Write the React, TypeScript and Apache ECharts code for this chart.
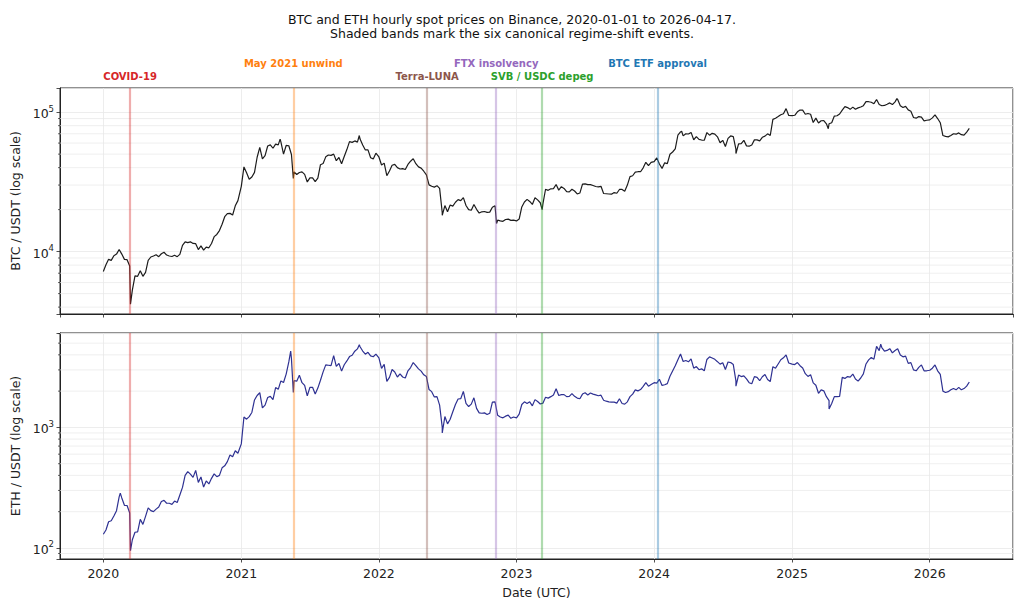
import { useEffect, useRef } from 'react';
import * as echarts from 'echarts';

// weekly samples, index k = Jan 1 + 7k days
const btc2020 = [7200, 8050, 8800, 8650, 9350, 9600, 10350, 9600, 8800, 8750, 7900, 5300, 6700, 6650, 7300, 6650, 7100, 8650, 9150, 9300, 9500, 9200, 9650, 9900, 9450, 9300, 9230, 9430, 9200, 9550, 11100, 11750, 11600, 11750, 11450, 11400, 10350, 11000, 10250, 10780, 10650, 11430, 12800, 13280, 14150, 15700, 17800, 18700, 18800, 18300, 21300, 23200];
const btc2021 = [29400, 40500, 36800, 33000, 34300, 37000, 47500, 55900, 46300, 48800, 57200, 58300, 55100, 59000, 58200, 61300, 50000, 57700, 57400, 49700, 37300, 35700, 36900, 37300, 35800, 31600, 33800, 33800, 31800, 33600, 42000, 42800, 47800, 49300, 49000, 50000, 44900, 47300, 42700, 48100, 53900, 61500, 60700, 62200, 61000, 64100, 58100, 53600, 53600, 47100, 46200, 50800];
const btc2022 = [47700, 41800, 43100, 35000, 37900, 41600, 42200, 40000, 39100, 39400, 38800, 42200, 44500, 46400, 42700, 40500, 39700, 37700, 35500, 30100, 29400, 29000, 29700, 28400, 19000, 21400, 19300, 21600, 21200, 22600, 23600, 23200, 24400, 21400, 20000, 19800, 21800, 20100, 18900, 19300, 19400, 19100, 19200, 20800, 21300, 16800, 16600, 16500, 17000, 17100, 16750, 16830];
const btc2023 = [16600, 17100, 20900, 22700, 23700, 22900, 21800, 24300, 23500, 22400, 22000, 28000, 27500, 28200, 28300, 30300, 27600, 29200, 28400, 26900, 26800, 28000, 27200, 25900, 26300, 30500, 30600, 30200, 30250, 29800, 29300, 29100, 29400, 26100, 26000, 25900, 25800, 26500, 26200, 27900, 27900, 27100, 30000, 34500, 35000, 37100, 37400, 37400, 39900, 43700, 41400, 43700];
const btc2024 = [44200, 47000, 42500, 39500, 43300, 42700, 49900, 51800, 54500, 68300, 72100, 67600, 70000, 69700, 71600, 63400, 66800, 63800, 63100, 62900, 71400, 68400, 70500, 69600, 66500, 60300, 62800, 56700, 64800, 67500, 66800, 54000, 59300, 59400, 62800, 57300, 57000, 58200, 63300, 63300, 62200, 66000, 67300, 69900, 68000, 88700, 90500, 93000, 95800, 97400, 106000, 94700];
const btc2025 = [94400, 95000, 100500, 103600, 103500, 96600, 97800, 96600, 84300, 90600, 83700, 86800, 86900, 82500, 82600, 84000, 93700, 94200, 97000, 103500, 109600, 107800, 104700, 108700, 104900, 107300, 108800, 111300, 119000, 118800, 117800, 115000, 123300, 113500, 111200, 111700, 114000, 116500, 113300, 118600, 123300, 111000, 108000, 110000, 103800, 101500, 91500, 90500, 93000, 92000, 86500, 87500];
const btc2026 = [88000, 91000, 95500, 90000, 84000, 68000, 67000, 66500, 68000, 70000, 69500, 71000, 69000, 68500, 72000, 76500];
const btcExtra: [string, number][] = [
  ['2020-02-13', 10450], ['2020-03-13', 4200], ['2021-04-14', 64000], ['2021-05-19', 33500], ['2021-11-10', 68000],
  ['2022-06-18', 18200], ['2022-11-09', 15900], ['2023-03-10', 20000], ['2024-03-14', 73000], ['2024-08-05', 50500],
  ['2025-04-07', 76000], ['2025-10-06', 125000], ['2026-04-17', 77000],
];

const eth2020 = [130, 141, 165, 168, 184, 204, 265, 260, 226, 225, 195, 117, 135, 136, 173, 157, 183, 215, 204, 200, 210, 219, 243, 248, 235, 235, 230, 245, 238, 275, 318, 400, 430, 410, 385, 440, 350, 388, 320, 360, 340, 378, 412, 390, 400, 462, 480, 520, 590, 570, 640, 610];
const eth2021 = [730, 1220, 1170, 1230, 1330, 1690, 1840, 1940, 1450, 1530, 1770, 1810, 1700, 2140, 2070, 2430, 2360, 2770, 3490, 3720, 2440, 2420, 2710, 2350, 2230, 1830, 2150, 2150, 1890, 2120, 2460, 2890, 3300, 3280, 3250, 3940, 3210, 3400, 2930, 3310, 3560, 3870, 3970, 4290, 4480, 4670, 4300, 4050, 4200, 3920, 3860, 4050];
const eth2022 = [3770, 3090, 3330, 2410, 2600, 3020, 2880, 2620, 2780, 2620, 2570, 2950, 3140, 3450, 3260, 3060, 2930, 2730, 2640, 2060, 1980, 1790, 1800, 1530, 1000, 1230, 1070, 1170, 1350, 1550, 1720, 1730, 1990, 1580, 1490, 1560, 1760, 1440, 1320, 1310, 1320, 1280, 1310, 1620, 1630, 1260, 1220, 1200, 1240, 1265, 1190, 1220];
const eth2023 = [1200, 1290, 1550, 1630, 1580, 1630, 1510, 1700, 1640, 1565, 1590, 1780, 1750, 1800, 1860, 2090, 1840, 1870, 1870, 1800, 1810, 1910, 1810, 1750, 1730, 1890, 1940, 1860, 1930, 1890, 1860, 1830, 1850, 1680, 1650, 1630, 1620, 1620, 1590, 1730, 1580, 1560, 1630, 1800, 1890, 2050, 2010, 2060, 2190, 2350, 2200, 2270];
const eth2024 = [2350, 2330, 2510, 2230, 2260, 2310, 2660, 2940, 3250, 3640, 4060, 3520, 3590, 3500, 3700, 3100, 3200, 3010, 3060, 2950, 3660, 3850, 3770, 3670, 3510, 3350, 3440, 3020, 3490, 3450, 3320, 2420, 2720, 2640, 2680, 2530, 2350, 2300, 2640, 2600, 2440, 2630, 2750, 2500, 2400, 3190, 3100, 3360, 3640, 3780, 4000, 3420];
const eth2025 = [3350, 3320, 3450, 3250, 3110, 2790, 2650, 2740, 2340, 2240, 1920, 2050, 2010, 1800, 1670, 1580, 1800, 1800, 1810, 2600, 2550, 2640, 2610, 2770, 2520, 2420, 2570, 2780, 3360, 3630, 3800, 3680, 4700, 4330, 4600, 4300, 4350, 4500, 4150, 4350, 4500, 3980, 3850, 3900, 3400, 3450, 3000, 2950, 3150, 3300, 2950, 2950];
const eth2026 = [2980, 3100, 3300, 2950, 2750, 2000, 1950, 1980, 2050, 2100, 2050, 2150, 2050, 2100, 2200, 2380];
const ethExtra: [string, number][] = [
  ['2020-02-15', 285], ['2020-03-13', 95], ['2021-05-12', 4300], ['2021-05-19', 1950], ['2021-11-10', 4850],
  ['2022-06-18', 900], ['2024-08-05', 2200], ['2025-04-09', 1420], ['2025-08-24', 4900], ['2026-04-17', 2400],
];

const events = [
  { name: 'COVID-19', date: '2020-03-12', color: '#d62728', band: 'rgba(214,39,40,0.38)', row: 0 },
  { name: 'May 2021 unwind', date: '2021-05-19', color: '#ff7f0e', band: 'rgba(255,127,14,0.38)', row: 1 },
  { name: 'Terra-LUNA', date: '2022-05-09', color: '#8c564b', band: 'rgba(140,86,75,0.38)', row: 0 },
  { name: 'FTX insolvency', date: '2022-11-08', color: '#9467bd', band: 'rgba(148,103,189,0.38)', row: 1 },
  { name: 'SVB / USDC depeg', date: '2023-03-10', color: '#2ca02c', band: 'rgba(44,160,44,0.38)', row: 0 },
  { name: 'BTC ETF approval', date: '2024-01-10', color: '#1f77b4', band: 'rgba(31,119,180,0.38)', row: 1 },
];

const titleLines = [
  'BTC and ETH hourly spot prices on Binance, 2020-01-01 to 2026-04-17.',
  'Shaded bands mark the six canonical regime-shift events.',
];

const btcMinor = [4000, 5000, 6000, 7000, 8000, 9000, 20000, 30000, 40000, 50000, 60000, 70000, 80000, 90000];
const ethMinor = [90, 200, 300, 400, 500, 600, 700, 800, 900, 2000, 3000, 4000, 5000, 6000];

const DAY = 86400000;
const t0 = Date.UTC(2020, 0, 1);
const t1 = Date.UTC(2026, 3, 17);
const pad = (t1 - t0) * 0.05;
const xMin = t0 - pad;
const xMax = t1 + pad;

const toMs = (d: string) => Date.parse(d + 'T00:00:00Z');

function buildSeries(years: [number, number[]][], extra: [string, number][]) {
  const pts: [number, number][] = [];
  years.forEach(([yr, vals]) => vals.forEach((v, k) => pts.push([Date.UTC(yr, 0, 1) + 7 * k * DAY, v])));
  extra.forEach(([d, v]) => pts.push([toMs(d), v]));
  return pts.sort((a, b) => a[0] - b[0]);
}

const btcData = buildSeries([[2020, btc2020], [2021, btc2021], [2022, btc2022], [2023, btc2023], [2024, btc2024], [2025, btc2025], [2026, btc2026]], btcExtra);
const ethData = buildSeries([[2020, eth2020], [2021, eth2021], [2022, eth2022], [2023, eth2023], [2024, eth2024], [2025, eth2025], [2026, eth2026]], ethExtra);

const INK = '#222';
const GRID_C = '#e8e8e8';
const FS = 12.5;

const isPow10 = (v: number) => Math.abs(Math.log10(v) - Math.round(Math.log10(v))) < 1e-6;

const xAxisBase = (gridIndex: number) => ({
  type: 'time' as const,
  gridIndex,
  min: xMin,
  max: xMax,
  minInterval: 365 * DAY,
  maxInterval: 366 * DAY,
  splitLine: { show: true, lineStyle: { color: GRID_C, width: 0.8 } },
  axisLine: { show: true, lineStyle: { color: INK, width: 1 } },
  axisTick: { show: true, length: 3.5, lineStyle: { color: INK, width: 0.8 } },
  minorTick: { show: false },
  axisLabel: {
    show: gridIndex === 1,
    showMinLabel: false,
    showMaxLabel: false,
    fontSize: FS,
    color: INK,
    margin: 8,
    formatter: (v: number) => {
      const d = new Date(v);
      return d.getUTCMonth() === 0 && d.getUTCDate() === 1 ? String(d.getUTCFullYear()) : '';
    },
  },
});

const yAxisBase = (gridIndex: number, min: number, max: number, name: string) => ({
  type: 'log' as const,
  logBase: 10,
  gridIndex,
  min,
  max,
  splitNumber: 2,
  name,
  nameLocation: 'middle' as const,
  nameGap: 38,
  nameTextStyle: { fontSize: FS, color: INK },
  splitLine: { show: true, lineStyle: { color: GRID_C, width: 0.8 } },
  axisLine: { show: true, lineStyle: { color: INK, width: 1 } },
  axisTick: { show: true, length: 3.5, lineStyle: { color: INK, width: 0.8 } },
  axisLabel: {
    color: INK,
    margin: 6,
    formatter: (v: number) => (isPow10(v) ? `{b|10}{e|${Math.round(Math.log10(v))}}` : ''),
    rich: {
      b: { fontSize: FS, color: INK, lineHeight: 16, verticalAlign: 'bottom' },
      e: { fontSize: 8.5, color: INK, lineHeight: 10, verticalAlign: 'top' },
    },
  },
});

const minorSeries = (idx: number, vals: number[]) => ({
  type: 'custom' as const,
  xAxisIndex: idx,
  yAxisIndex: idx,
  silent: true,
  clip: false,
  z: 1,
  data: vals.map((v) => [xMin, v]),
  renderItem: (params: any, api: any) => {
    const cs = params.coordSys;
    const y = api.coord([api.value(0), api.value(1)])[1];
    return {
      type: 'group',
      children: [
        { type: 'line', shape: { x1: cs.x, y1: y, x2: cs.x + cs.width, y2: y }, style: { stroke: GRID_C, lineWidth: 0.7 } },
        { type: 'line', shape: { x1: cs.x - 2, y1: y, x2: cs.x, y2: y }, style: { stroke: INK, lineWidth: 0.7 } },
      ],
    };
  },
});

const markLines = (withLabels: boolean) => ({
  silent: true,
  symbol: ['none', 'none'],
  animation: false,
  data: events.map((e) => ({
    xAxis: toMs(e.date),
    name: e.name,
    lineStyle: { color: e.band, width: 2.2, type: 'solid' },
    label: {
      show: withLabels,
      position: 'end',
      formatter: '{b}',
      color: e.color,
      fontWeight: 'bold',
      fontSize: 10,
      distance: e.row === 0 ? 7 : 20,
    },
  })),
});

export default function App() {
  const ref = useRef<HTMLDivElement>(null);

  useEffect(() => {
    if (!ref.current) return;
    const chart = echarts.init(ref.current, null, { renderer: 'svg' });
    const option: any = {
      animation: false,
      useUTC: true,
      backgroundColor: '#fff',
      textStyle: { fontFamily: 'DejaVu Sans' },
      title: titleLines.map((t, i) => ({
        text: t,
        left: 'center',
        top: 8 + i * 14,
        textStyle: { fontSize: FS, fontWeight: 'normal', color: '#111', fontFamily: 'DejaVu Sans' },
      })),
      grid: [
        { left: 60, top: 88, width: 953, height: 226, show: true, borderColor: INK, borderWidth: 1, backgroundColor: 'transparent' },
        { left: 60, top: 333, width: 953, height: 226, show: true, borderColor: INK, borderWidth: 1, backgroundColor: 'transparent' },
      ],
      xAxis: [
        xAxisBase(0),
        { ...xAxisBase(1), name: 'Date (UTC)', nameLocation: 'middle', nameGap: 27, nameTextStyle: { fontSize: FS, color: INK } },
      ],
      yAxis: [
        yAxisBase(0, 3570, 149000, 'BTC / USDT (log scale)'),
        yAxisBase(1, 81, 6070, 'ETH / USDT (log scale)'),
      ],
      series: [
        minorSeries(0, btcMinor),
        minorSeries(1, ethMinor),
        {
          type: 'line',
          name: 'BTC',
          xAxisIndex: 0,
          yAxisIndex: 0,
          data: btcData,
          showSymbol: false,
          symbol: 'none',
          silent: true,
          z: 3,
          lineStyle: { color: '#1c1c1c', width: 1.2 },
          itemStyle: { color: '#1c1c1c' },
          markLine: markLines(true),
        },
        {
          type: 'line',
          name: 'ETH',
          xAxisIndex: 1,
          yAxisIndex: 1,
          data: ethData,
          showSymbol: false,
          symbol: 'none',
          silent: true,
          z: 3,
          lineStyle: { color: '#2e3192', width: 1.2 },
          itemStyle: { color: '#2e3192' },
          markLine: markLines(false),
        },
      ],
    };
    chart.setOption(option);
    return () => {
      chart.dispose();
    };
  }, []);

  return <div ref={ref} style={{ position: 'fixed', left: 0, top: 0, width: '1024px', height: '609px' }} />;
}
